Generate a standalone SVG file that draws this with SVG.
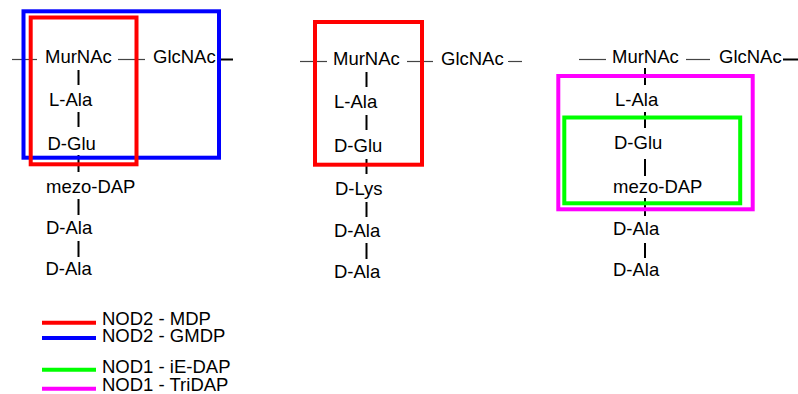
<svg xmlns="http://www.w3.org/2000/svg" width="798" height="394" viewBox="0 0 798 394">
<style>
text{font-family:"Liberation Sans",Arial,sans-serif;font-size:18.5px;fill:#000}
.thin{stroke:#444;stroke-width:1.2;fill:none}
.thick{stroke:#000;stroke-width:2;fill:none}
.box{fill:none;stroke-width:4}
.red{stroke:#ff0000}.blue{stroke:#0000ff}.green{stroke:#00ff00}.mag{stroke:#ff00ff}
.leg{stroke-width:4}
</style>
<rect width="798" height="394" fill="#fff"/>
<g id="connectors">
<line class="thin" x1="12" y1="59.5" x2="37" y2="59.5"/>
<line class="thin" x1="118" y1="59.5" x2="145" y2="59.5"/>
<line class="thick" x1="217" y1="59.5" x2="233" y2="59.5"/>
<line class="thick" x1="78.5" y1="70" x2="78.5" y2="85"/>
<line class="thick" x1="78.5" y1="112" x2="78.5" y2="127"/>
<line class="thick" x1="78.5" y1="155" x2="78.5" y2="172"/>
<line class="thick" x1="78.5" y1="199" x2="78.5" y2="215"/>
<line class="thick" x1="78.5" y1="241" x2="78.5" y2="257"/>
<line class="thin" x1="300" y1="61.5" x2="327" y2="61.5"/>
<line class="thin" x1="407" y1="61.5" x2="433" y2="61.5"/>
<line class="thin" x1="508" y1="61.5" x2="522" y2="61.5"/>
<line class="thick" x1="366.5" y1="72" x2="366.5" y2="87"/>
<line class="thick" x1="366.5" y1="115" x2="366.5" y2="130"/>
<line class="thick" x1="366.5" y1="159" x2="366.5" y2="174"/>
<line class="thick" x1="366.5" y1="202" x2="366.5" y2="217"/>
<line class="thick" x1="366.5" y1="243" x2="366.5" y2="259"/>
<line class="thin" x1="579" y1="59.5" x2="606" y2="59.5"/>
<line class="thin" x1="686" y1="59.5" x2="710" y2="59.5"/>
<line class="thick" x1="783" y1="59.5" x2="798" y2="59.5"/>
<line class="thick" x1="645" y1="68" x2="645" y2="85"/>
<line class="thick" x1="645" y1="112" x2="645" y2="128"/>
<line class="thick" x1="645" y1="159" x2="645" y2="176"/>
<line class="thick" x1="645" y1="198" x2="645" y2="216"/>
<line class="thick" x1="645" y1="243" x2="645" y2="258"/>
</g>
<g id="panel1">
<g id="p1-murnac"><text x="45" y="63">MurNAc</text></g>
<g id="p1-glcnac"><text x="153" y="63">GlcNAc</text></g>
<g id="p1-lala"><text x="49" y="106">L-Ala</text></g>
<g id="p1-dglu"><text x="47.5" y="149.5">D-Glu</text></g>
<g id="p1-mezodap"><text x="46" y="193">mezo-DAP</text></g>
<g id="p1-dala1"><text x="46" y="234">D-Ala</text></g>
<g id="p1-dala2"><text x="45.5" y="275">D-Ala</text></g>
</g>
<g id="panel2">
<g id="p2-murnac"><text x="333" y="65">MurNAc</text></g>
<g id="p2-glcnac"><text x="441" y="65">GlcNAc</text></g>
<g id="p2-lala"><text x="334" y="108">L-Ala</text></g>
<g id="p2-dglu"><text x="334" y="152">D-Glu</text></g>
<g id="p2-dlys"><text x="335" y="195">D-Lys</text></g>
<g id="p2-dala1"><text x="334" y="237">D-Ala</text></g>
<g id="p2-dala2"><text x="334" y="278">D-Ala</text></g>
</g>
<g id="panel3">
<g id="p3-murnac"><text x="612" y="63">MurNAc</text></g>
<g id="p3-glcnac"><text x="719" y="63">GlcNAc</text></g>
<g id="p3-lala"><text x="615" y="106">L-Ala</text></g>
<g id="p3-dglu"><text x="614" y="149">D-Glu</text></g>
<g id="p3-mezodap"><text x="613" y="193">mezo-DAP</text></g>
<g id="p3-dala1"><text x="613" y="235">D-Ala</text></g>
<g id="p3-dala2"><text x="613" y="276">D-Ala</text></g>
</g>
<g id="highlights">
<rect id="gmdp-box" class="box blue" x="23.5" y="11.3" width="195.5" height="146.4"/>
<rect id="mdp-box1" class="box red" x="30.7" y="17.5" width="105.8" height="146.8"/>
<rect id="mdp-box2" class="box red" x="315" y="22" width="107" height="142.7"/>
<rect id="tridap-box" class="box mag" x="558.3" y="76" width="194.4" height="133.3"/>
<rect id="iedap-box" class="box green" x="564.3" y="117.5" width="175.9" height="85.8"/>
</g>
<g id="legend">
<line class="leg red" x1="42" y1="322.7" x2="96" y2="322.7"/>
<line class="leg blue" x1="42" y1="338" x2="96" y2="338"/>
<line class="leg green" x1="42" y1="369.7" x2="96" y2="369.7"/>
<line class="leg mag" x1="42" y1="388.7" x2="96" y2="388.7"/>
<text x="102" y="325">NOD2 - MDP</text>
<text x="102" y="341.7">NOD2 - GMDP</text>
<text x="102" y="373.3">NOD1 - iE-DAP</text>
<text x="102" y="390.7">NOD1 - TriDAP</text>
</g>
</svg>
